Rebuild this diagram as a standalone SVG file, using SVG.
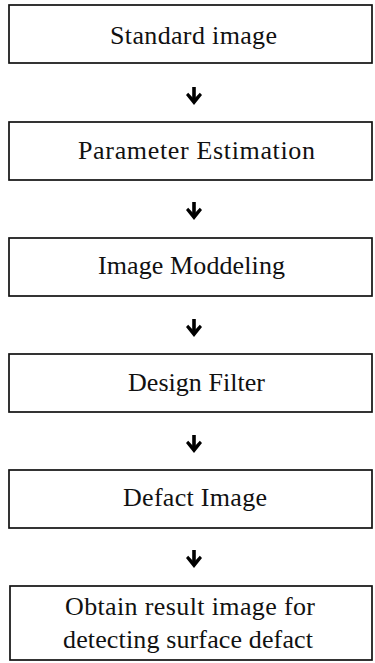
<svg xmlns="http://www.w3.org/2000/svg" width="375" height="663" viewBox="0 0 375 663">
  <style>
    .box { fill: #fff; stroke: #111; stroke-width: 1.7; }
    .label { font-family: 'Liberation Serif', 'DejaVu Serif', 'Times New Roman', serif; font-size: 26px; fill: #111; }
    .stem { stroke: #000; stroke-width: 3.6; fill: none; }
    .head { fill: #000; }
  </style>
  <defs>
    <g id="down-arrow">
      <path class="stem" d="M0,-1 V14"/>
      <path class="head" d="M-8,7 L0,17 L8,7 L5.8,4.8 L0,11 L-5.8,4.8 Z"/>
    </g>
  </defs>
  <rect width="375" height="663" fill="#fff"/>

  <!-- process steps -->
  <g id="standard-image">
    <rect class="box" x="9" y="5" width="363" height="58"/>
    <text class="label" x="110" y="44" textLength="167" lengthAdjust="spacing">Standard image</text>
  </g>
  <g id="parameter-estimation">
    <rect class="box" x="9" y="122" width="363" height="58"/>
    <text class="label" x="78" y="159" textLength="237" lengthAdjust="spacing">Parameter Estimation</text>
  </g>
  <g id="image-modelling">
    <rect class="box" x="9" y="238" width="363" height="58"/>
    <text class="label" x="98" y="274" textLength="187" lengthAdjust="spacing">Image Moddeling</text>
  </g>
  <g id="design-filter">
    <rect class="box" x="9" y="354" width="363" height="58"/>
    <text class="label" x="128" y="391" textLength="137" lengthAdjust="spacing">Design Filter</text>
  </g>
  <g id="defect-image">
    <rect class="box" x="9" y="470" width="363" height="58"/>
    <text class="label" x="123" y="506" textLength="144" lengthAdjust="spacing">Defact Image</text>
  </g>
  <g id="result-image">
    <rect class="box" x="10" y="586" width="362" height="74"/>
    <text class="label" x="65" y="615" textLength="250" lengthAdjust="spacing">Obtain result image for</text>
    <text class="label" x="63" y="648" textLength="250" lengthAdjust="spacing">detecting surface defact</text>
  </g>

  <!-- downward arrows between steps -->
  <g id="connectors">
    <use id="arrow-1" href="#down-arrow" x="194" y="88"/>
    <use id="arrow-2" href="#down-arrow" x="194" y="203"/>
    <use id="arrow-3" href="#down-arrow" x="194" y="320"/>
    <use id="arrow-4" href="#down-arrow" x="194" y="436"/>
    <use id="arrow-5" href="#down-arrow" x="194" y="551"/>
  </g>
</svg>
